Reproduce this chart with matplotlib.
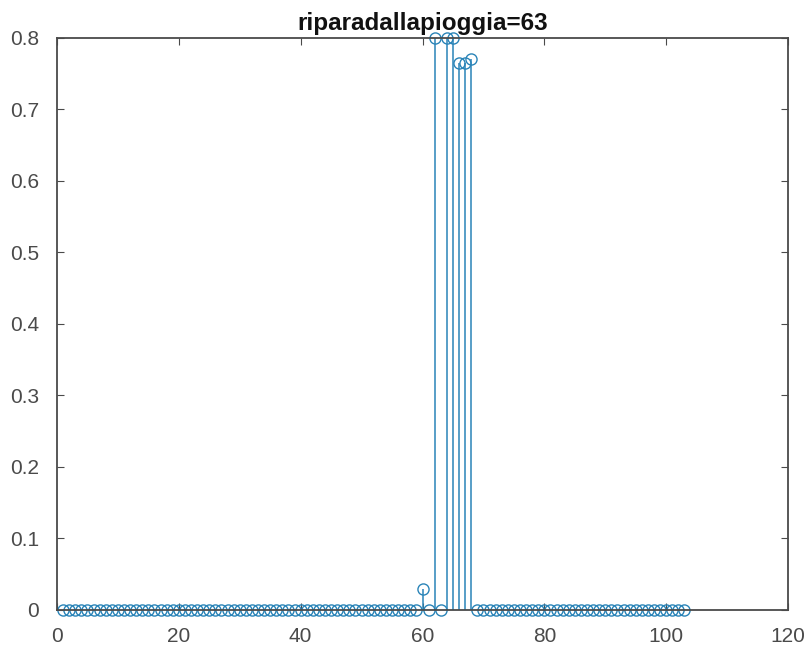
import numpy as np
import matplotlib.pyplot as plt

plt.rcParams['font.family'] = ['Liberation Sans', 'DejaVu Sans']

# probability per index (1..103)
values = [0, 0, 0, 0, 0, 0, 0, 0, 0, 0,
          0, 0, 0, 0, 0, 0, 0, 0, 0, 0,
          0, 0, 0, 0, 0, 0, 0, 0, 0, 0,
          0, 0, 0, 0, 0, 0, 0, 0, 0, 0,
          0, 0, 0, 0, 0, 0, 0, 0, 0, 0,
          0, 0, 0, 0, 0, 0, 0, 0, 0, 0.03,
          0, 0.8, 0, 0.8, 0.8, 0.765, 0.765, 0.77, 0, 0,
          0, 0, 0, 0, 0, 0, 0, 0, 0, 0,
          0, 0, 0, 0, 0, 0, 0, 0, 0, 0,
          0, 0, 0, 0, 0, 0, 0, 0, 0, 0,
          0, 0, 0]
idx = np.arange(1, len(values) + 1)
best = 63

blue = '#2a84b8'
axcol = '#4a4a4a'

fig = plt.figure(figsize=(8.07, 6.47), dpi=100)
ax = fig.add_axes([0.0706, 0.0572, 0.9059, 0.8841])

markers, stems, base = ax.stem(idx, values, basefmt=' ')
plt.setp(stems, color=blue, linewidth=1.1)
plt.setp(markers, color=blue, marker='o', markersize=8,
         markerfacecolor='none', markeredgewidth=1.0, clip_on=False)
stems.set_clip_on(False)

ax.set_xlim(0, 120)
ax.set_ylim(0, 0.8)
ax.set_xticks(np.arange(0, 121, 20))
ax.set_yticks(np.arange(0, 0.81, 0.1))
ax.set_yticklabels(['0', '0.1', '0.2', '0.3', '0.4', '0.5', '0.6', '0.7', '0.8'])

ax.tick_params(direction='in', top=True, right=True, labelsize=15,
               colors=axcol, length=5, width=0.8)
ax.tick_params(axis='y', pad=13)
ax.tick_params(axis='x', pad=12)
for s in ax.spines.values():
    s.set_color(axcol)
    s.set_linewidth(1.3)

ax.set_title('riparadallapioggia=%d' % best, fontsize=17.5, fontweight='bold',
             color='#111111', pad=6)

fig.savefig('out.png', dpi=100)
